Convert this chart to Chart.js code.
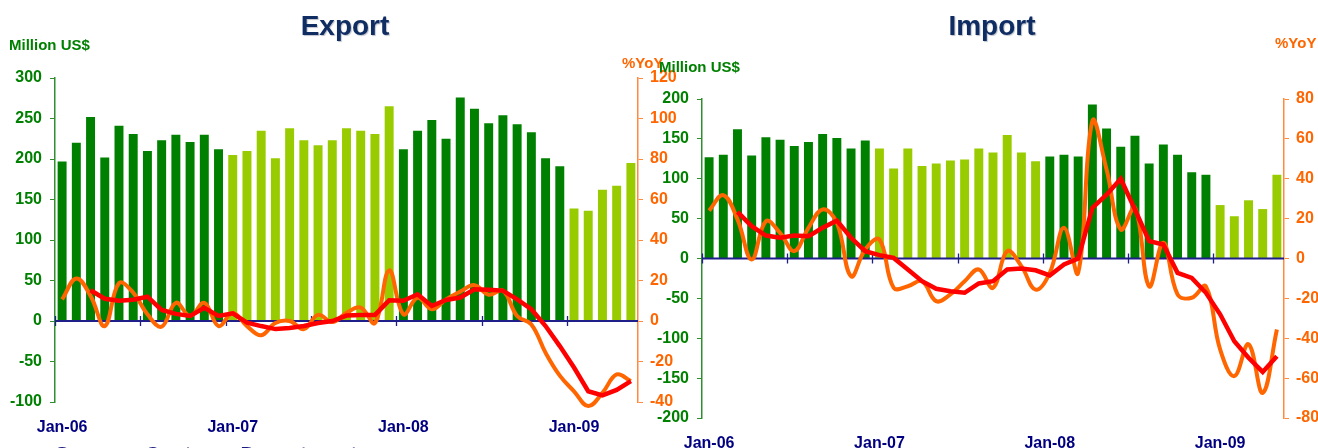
<!DOCTYPE html>
<html>
<head>
<meta charset="utf-8">
<script src="https://cdn.jsdelivr.net/npm/chart.js@4.4.0/dist/chart.umd.min.js"></script>
<style>
  html, body { margin: 0; padding: 0; background: #fff; }
  body { width: 1318px; height: 448px; position: relative; overflow: hidden;
         font-family: "Liberation Sans", Arial, sans-serif; font-weight: bold; }
  .box { position: absolute; top: 0; height: 448px; }
  .txt { position: absolute; white-space: nowrap; line-height: 1; }
  .title { font-size: 28px; color: #0f2d63; width: 200px; text-align: center;
           text-shadow: 1px 1px 1px rgba(110,120,140,0.45); }
  .unit { font-size: 15px; color: #008000; }
  .yoy { font-size: 15px; color: #ff6600; }
  .src { font-size: 21px; color: #1a1a80; }
</style>
</head>
<body>
<div class="box" style="left:0;width:690px"><canvas id="exportChart" width="690" height="448"></canvas></div>
<div class="box" style="left:648px;width:670px"><canvas id="importChart" width="670" height="448"></canvas></div>

<div class="txt title" style="left:245px;top:12px">Export</div>
<div class="txt title" style="left:892px;top:12px">Import</div>
<div class="txt unit" style="left:9px;top:37px">Million US$</div>
<div class="txt yoy" style="left:622px;top:55px">%YoY</div>
<div class="txt unit" style="left:659px;top:59px">Million US$</div>
<div class="txt yoy" style="left:1275px;top:35px">%YoY</div>
<div class="txt src" style="left:55px;top:443px">Source : Customs Department</div>

<script>
/* data */
const categories = [
  "Jan-06","Feb-06","Mar-06","Apr-06","May-06","Jun-06","Jul-06","Aug-06","Sep-06","Oct-06","Nov-06","Dec-06",
  "Jan-07","Feb-07","Mar-07","Apr-07","May-07","Jun-07","Jul-07","Aug-07","Sep-07","Oct-07","Nov-07","Dec-07",
  "Jan-08","Feb-08","Mar-08","Apr-08","May-08","Jun-08","Jul-08","Aug-08","Sep-08","Oct-08","Nov-08","Dec-08",
  "Jan-09","Feb-09","Mar-09","Apr-09","May-09"
];
const xTickLabels = ["Jan-06", "Jan-07", "Jan-08", "Jan-09"];

const exportValues = [
  197, 220, 252, 202, 241, 231, 210, 223, 230, 221, 230, 212,
  205, 210, 235, 201, 238, 223, 217, 223, 238, 235, 231, 265,
  212, 235, 248, 225, 276, 262, 244, 254, 243, 233, 201, 191,
  139, 136, 162, 167, 195
];
const exportYoY = [
  10.7, 21, 12.4, -2.5, 18.7, 14, 3.3, -2.8, 9, 2.5, 9, -2.5,
  4, -2.5, -7, -1, 0, -4, 3, -0.5, 4, 6.6, -1, 25,
  3.3, 11.5, 5.8, 10.7, 14.5, 17.7, 13, 15, 2.5, -1.7, -15.7, -27,
  -34.7, -42, -35.5, -26.4, -29.7
];
const exportAvg = [
  null, null, 15.2, 11, 10, 10.5, 12, 5.5, 3.5, 2.5, 6.5, 2.5,
  3.8, -0.8, -2.5, -4, -3.5, -2.5, -1, 0, 2.7, 3, 3, 10.2,
  10, 13.2, 7.4, 10.4, 11.6, 15.7, 15.4, 15, 10.7, 5.8, -2.5, -12.4,
  -23, -34.7, -36.7, -34, -29.7
];

const importValues = [
  127, 130, 162, 129, 152, 149, 141, 146, 156, 151, 138, 148,
  138, 113, 138, 116, 119, 123, 124, 138, 133, 155, 133, 122,
  128, 130, 128, 193, 163, 140, 154, 119, 143, 130, 108, 105,
  67, 53, 73, 62, 105
];
const importYoY = [
  24, 31.8, 19.6, -0.5, 18.7, 12.9, 3.7, 15.4, 24.6, 17.9, -8.9, 4.5,
  9.5, -14.7, -13.9, -11.4, -21.4, -18, -11.4, -5.5, -14.7, 3.7, -3.8, -15.6,
  -7.2, 15.4, -7.2, 68.9, 44.6, 14.5, 25.4, -14, 7.9, -18, -19.7, -14,
  -45.6, -59, -43, -67.4, -35.6
];
const importAvg = [
  null, null, 23.4, 16.2, 11.5, 10.4, 11.5, 11.2, 15.4, 19, 10.4, 3.7,
  1.7, 0.3, -5.5, -11.4, -15.2, -16.4, -17.2, -12.5, -11.4, -5.5, -5, -5.9,
  -8.5, -3, 0, 25.4, 32, 40, 24.6, 8.7, 7, -7.2, -9.7, -17.2,
  -28, -41.5, -49.8, -56.9, -49
];

const DARK = "#008000", LIGHT = "#99cc00", ORANGE = "#ff6600", RED = "#ff0000", NAVY = "#000080";
Chart.defaults.font.family = '"Liberation Sans", Arial, sans-serif';

/* zero line with a tick every 6 months, drawn just after the bars */
const zeroAxis = {
  id: "zeroAxis",
  afterDatasetDraw(chart, args) {
    if (args.index !== 0) return;
    const x = chart.scales.x, y = chart.scales.y, ctx = chart.ctx;
    const y0 = y.getPixelForValue(0);
    const step = x.width / chart.data.labels.length;
    ctx.save();
    ctx.strokeStyle = "#1f1f8a";
    ctx.lineWidth = 2;
    ctx.beginPath();
    ctx.moveTo(x.left, y0);
    ctx.lineTo(x.right, y0);
    ctx.stroke();
    ctx.lineWidth = 1.3;
    ctx.beginPath();
    for (let i = 0; i < chart.data.labels.length; i += 6) {
      const px = Math.round(x.getPixelForValue(i) - step / 2) + 0.5;
      ctx.moveTo(px, y0 - 5);
      ctx.lineTo(px, y0 + 5);
    }
    ctx.stroke();
    ctx.restore();
  }
};

function makeChart(id, vals, yoy, avg, c) {
  new Chart(document.getElementById(id), {
    type: "bar",
    data: {
      labels: categories,
      datasets: [
        {
          data: vals,
          backgroundColor: categories.map(l => /0[68]$/.test(l) ? DARK : LIGHT),
          barPercentage: 0.63,
          categoryPercentage: 1,
          yAxisID: "y",
          order: 3,
        },
        {
          type: "line",
          data: yoy,
          borderColor: ORANGE,
          borderWidth: 4,
          pointRadius: 0,
          tension: 0.4,
          clip: false,
          yAxisID: "y1",
          order: 2,
        },
        {
          type: "line",
          data: avg,
          borderColor: RED,
          borderWidth: 4.5,
          pointRadius: 0,
          tension: 0,
          clip: false,
          yAxisID: "y1",
          order: 1,
        },
      ],
    },
    options: {
      responsive: false,
      animation: false,
      events: [],
      layout: { padding: { top: c.top, left: 0, right: 0, bottom: 0 } },
      plugins: { legend: { display: false }, tooltip: { enabled: false } },
      scales: {
        x: {
          grid: { display: false },
          border: { display: false },
          ticks: {
            autoSkip: false,
            maxRotation: 0,
            padding: c.xPad,
            color: NAVY,
            font: { size: 16, weight: "bold" },
            callback(v) {
              const l = this.getLabelForValue(v);
              return xTickLabels.includes(l) ? l : "";
            },
          },
          afterFit: s => { s.height = c.xHeight; },
        },
        y: {
          position: "left",
          min: c.yMin, max: c.yMax,
          ticks: { stepSize: c.yStep, padding: 8, color: DARK, font: { size: 16, weight: "bold" } },
          grid: { drawOnChartArea: false, tickLength: 5, tickColor: "#2f8f2f" },
          border: { color: "#2f8f2f", width: 1.5 },
          afterFit: s => { s.width = c.leftW; },
        },
        y1: {
          position: "right",
          min: c.rMin, max: c.rMax,
          ticks: { stepSize: c.rStep, padding: 7, color: ORANGE, font: { size: 16, weight: "bold" } },
          grid: { drawOnChartArea: false, tickLength: 5, tickColor: "#ff8a3d" },
          border: { color: "#ff8a3d", width: 1.5 },
          afterFit: s => { s.width = c.rightW; },
        },
      },
    },
    plugins: [zeroAxis],
  });
}

makeChart("exportChart", exportValues, exportYoY, exportAvg, {
  top: 78, xHeight: 46, xPad: 8, leftW: 55, rightW: 52,
  yMin: -100, yMax: 300, yStep: 50, rMin: -40, rMax: 120, rStep: 20,
});
makeChart("importChart", importValues, importYoY, importAvg, {
  top: 99, xHeight: 30, xPad: 8, leftW: 54, rightW: 34,
  yMin: -200, yMax: 200, yStep: 50, rMin: -80, rMax: 80, rStep: 20,
});
</script>
</body>
</html>
